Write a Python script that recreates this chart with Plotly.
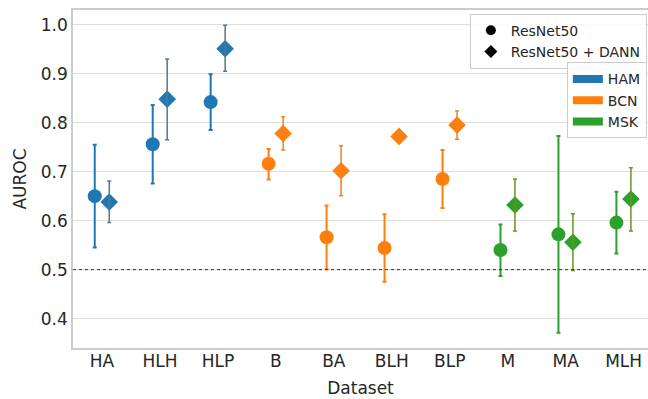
import plotly.graph_objects as go

# ---- data ----
categories = ["HA", "HLH", "HLP", "B", "BA", "BLH", "BLP", "M", "MA", "MLH"]
source = ["HAM", "HAM", "HAM", "BCN", "BCN", "BCN", "BCN", "MSK", "MSK", "MSK"]
sources = ["HAM", "BCN", "MSK"]

resnet_mean = [0.650, 0.756, 0.842, 0.716, 0.566, 0.544, 0.685, 0.540, 0.572, 0.596]
resnet_lo = [0.545, 0.676, 0.785, 0.684, 0.501, 0.475, 0.626, 0.487, 0.371, 0.533]
resnet_hi = [0.755, 0.836, 0.899, 0.746, 0.631, 0.613, 0.744, 0.592, 0.773, 0.659]

dann_mean = [0.638, 0.848, 0.951, 0.778, 0.702, 0.772, 0.795, 0.632, 0.556, 0.644]
dann_lo = [0.596, 0.765, 0.905, 0.744, 0.651, 0.762, 0.766, 0.579, 0.498, 0.579]
dann_hi = [0.681, 0.930, 0.999, 0.812, 0.753, 0.780, 0.824, 0.685, 0.614, 0.708]

chance_level = 0.5
y_ticks = [0.4, 0.5, 0.6, 0.7, 0.8, 0.9, 1.0]

# ---- style ----
colors = {"HAM": "#1f77b4", "BCN": "#ff7f0e", "MSK": "#2ca02c"}
dann_err_colors = {"HAM": "#5a7687", "BCN": "#ee8420", "MSK": "#6a9322"}
DODGE = 0.125
FONT = "DejaVu Sans"
TXT = "#262626"

fig = go.Figure()

for src in sources:
    idx = [i for i, s in enumerate(source) if s == src]
    xr = [i - DODGE for i in idx]
    xd = [i + DODGE for i in idx]
    # ResNet50 circles
    fig.add_trace(go.Scatter(
        x=xr, y=[resnet_mean[i] for i in idx], mode="markers",
        marker=dict(symbol="circle", size=14, color=colors[src], line=dict(width=0)),
        error_y=dict(type="data", symmetric=False,
                     array=[resnet_hi[i] - resnet_mean[i] for i in idx],
                     arrayminus=[resnet_mean[i] - resnet_lo[i] for i in idx],
                     color=colors[src], thickness=2, width=2),
        showlegend=False, hoverinfo="skip"))
    # DANN diamonds
    fig.add_trace(go.Scatter(
        x=xd, y=[dann_mean[i] for i in idx], mode="markers",
        marker=dict(symbol="diamond", size=13.5, color=colors[src], line=dict(width=0)),
        showlegend=False, hoverinfo="skip"))
    # DANN error bars drawn on top of diamonds
    fig.add_trace(go.Scatter(
        x=xd, y=[dann_mean[i] for i in idx], mode="markers",
        marker=dict(size=1, color="rgba(0,0,0,0)"),
        error_y=dict(type="data", symmetric=False,
                     array=[dann_hi[i] - dann_mean[i] for i in idx],
                     arrayminus=[dann_mean[i] - dann_lo[i] for i in idx],
                     color=dann_err_colors[src], thickness=1.5, width=2),
        showlegend=False, hoverinfo="skip"))

# legend 1: models
fig.add_trace(go.Scatter(x=[None], y=[None], mode="markers", name="ResNet50",
                         marker=dict(symbol="circle", size=10, color="black"),
                         legend="legend"))
fig.add_trace(go.Scatter(x=[None], y=[None], mode="markers", name="ResNet50 + DANN",
                         marker=dict(symbol="diamond", size=10, color="black"),
                         legend="legend"))
# legend 2: sources
for src in sources:
    fig.add_trace(go.Scatter(x=[None], y=[None], mode="lines", name=src,
                             line=dict(color=colors[src], width=8),
                             legend="legend2"))

fig.add_hline(y=chance_level, line=dict(color="#333333", width=1, dash="dot"))

fig.update_layout(
    width=648, height=399,
    margin=dict(l=73, r=0, t=10, b=51),
    paper_bgcolor="white", plot_bgcolor="white",
    font=dict(family=FONT, size=17, color=TXT),
    legend=dict(x=0.998, y=0.989, xanchor="right", yanchor="top",
                bgcolor="rgba(255,255,255,0.85)", bordercolor="#cccccc", borderwidth=1,
                font=dict(size=14, color=TXT), itemwidth=30),
    legend2=dict(x=0.998, y=0.845, xanchor="right", yanchor="top",
                 bgcolor="rgba(255,255,255,0.85)", bordercolor="#cccccc", borderwidth=1,
                 font=dict(size=14, color=TXT), itemwidth=30),
)

fig.update_xaxes(
    range=[-0.5, 9.42], tickmode="array", tickvals=list(range(len(categories))),
    ticktext=categories, showgrid=False, zeroline=False,
    showline=True, linecolor="#cccccc", linewidth=1.5, mirror=True,
    ticks="", tickfont=dict(size=17, color=TXT), ticklabelstandoff=-3,
    title=dict(text="Dataset", font=dict(size=17, color=TXT), standoff=12),
)
fig.update_yaxes(
    range=[0.34, 1.03], tickmode="array", tickvals=y_ticks,
    ticktext=[f"{v:.1f}" for v in y_ticks],
    showgrid=True, gridcolor="#dedede", gridwidth=1.2, zeroline=False,
    showline=True, linecolor="#cccccc", linewidth=1.5,
    ticks="", tickfont=dict(size=17, color=TXT),
    title=dict(text="AUROC", font=dict(size=17, color=TXT), standoff=10),
)

fig.write_html("out.html", config={"displayModeBar": False},
               post_script="document.body.style.margin='0px';")
